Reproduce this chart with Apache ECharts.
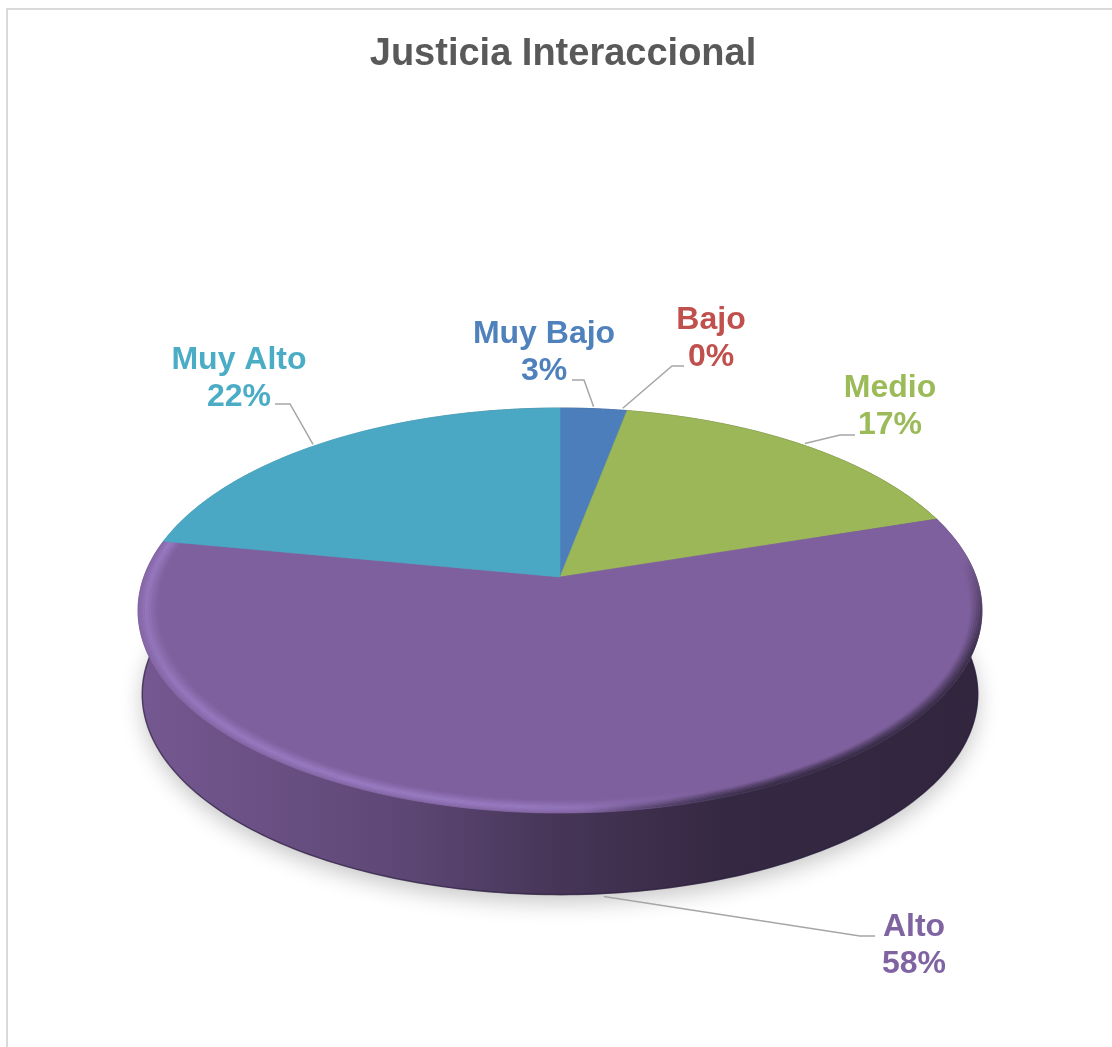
<!DOCTYPE html>
<html lang="es">
<head>
<meta charset="utf-8">
<title>Justicia Interaccional</title>
<style>
  html, body { margin: 0; padding: 0; background: #fff; }
  #chart { width: 1112px; height: 1047px; }
</style>
<script src="https://cdn.jsdelivr.net/npm/echarts@6/dist/echarts.min.js"></script>
</head>
<body>
<div id="chart"></div>
<script>
// Category names and their percentages
const categories = ['Muy Bajo', 'Bajo', 'Medio', 'Alto', 'Muy Alto'];
const percentages = [3, 0, 17, 58, 22];
const sliceColors = ['#4d7ebc', '#c0504d', '#9bb757', '#7f609e', '#4ba8c4'];
const labelColors = ['#4f81bd', '#c0504d', '#9bbb59', '#8064a2', '#4bacc6'];

// Label placement: text centre, leader elbow and a small angular nudge on the rim
const labelLayout = [
  { x: 544, y: 352.5, fromX: 572, elbowX: 584, elbowY: 380, nudge: 0, onBase: false },
  { x: 711, y: 339, fromX: 684, elbowX: 672, elbowY: 366, nudge: -0.7, onBase: false },
  { x: 890, y: 407, fromX: 855, elbowX: 840, elbowY: 435, nudge: 0, onBase: false },
  { x: 914, y: 945.5, fromX: 875, elbowX: 860, elbowY: 936, nudge: -1.5, onBase: true },
  { x: 239, y: 378.5, fromX: 275, elbowX: 290, elbowY: 404, nudge: -2.2, onBase: false }
];

// Perspective model of the tilted disc
const CX = 560, CY = 577;
const REACH_BACK = 169, REACH_FRONT = 236, HALF_WIDTH = 422;
const K = (REACH_FRONT - REACH_BACK) / (REACH_FRONT + REACH_BACK);
const B = REACH_BACK * (1 + K);
const A = HALF_WIDTH * Math.sqrt(1 - K * K);
const BASE_DROP = 84, BASE_SCALE = 0.99;

function project(deg, radius, onBase) {
  const t = deg * Math.PI / 180;
  const u = radius * Math.sin(t), v = -radius * Math.cos(t);
  const d = 1 - K * v;
  const s = onBase ? BASE_SCALE : 1;
  return [CX + s * A * u / d, CY + (onBase ? BASE_DROP : 0) + s * B * v / d];
}

function arc(from, to, radius, onBase) {
  const pts = [];
  const n = Math.max(1, Math.ceil(Math.abs(to - from)));
  for (let i = 0; i <= n; i++) pts.push(project(from + (to - from) * i / n, radius, onBase));
  return pts;
}

// Slice start and end angles, clockwise from twelve o'clock
const total = percentages.reduce((a, b) => a + b, 0);
const spans = [];
percentages.reduce((acc, p, i) => {
  const next = acc + p / total * 360;
  spans[i] = [acc, next];
  return next;
}, 0);

function horizontal(stops) {
  return { type: 'linear', x: 137, y: 0, x2: 982, y2: 0, global: true, colorStops: stops };
}

// Scale a #rrggbb colour towards black
function dim(hex, factor) {
  const n = parseInt(hex.slice(1), 16);
  const part = shift => Math.round(((n >> shift) & 255) * factor);
  return `rgb(${part(16)},${part(8)},${part(0)})`;
}

// Wall shading runs from lit on the left to deep shade on the right
function wallFill(color) {
  return horizontal([
    { offset: 0, color: dim(color, 0.92) },
    { offset: 0.3, color: dim(color, 0.75) },
    { offset: 0.5, color: dim(color, 0.55) },
    { offset: 0.7, color: dim(color, 0.42) },
    { offset: 1, color: dim(color, 0.39) }
  ]);
}

// Drop shadow under the disc and the outer wall of each slice
function renderWall(params) {
  const i = params.dataIndex;
  const [a0, a1] = spans[i];
  if (a1 <= a0) return null;
  const top = arc(a0, a1, 1, false);
  const base = arc(a0, a1, 1, true);
  const children = [];
  if (i === 0) {
    children.push({
      type: 'polygon',
      shape: { points: arc(0, 360, 1, true) },
      style: {
        fill: '#8a8a8a',
        shadowBlur: 22,
        shadowColor: 'rgba(0,0,0,0.22)',
        shadowOffsetY: 8
      }
    });
  }
  children.push({
    type: 'polygon',
    shape: { points: top.concat(base.slice().reverse()) },
    style: { fill: wallFill(sliceColors[i]), stroke: wallFill(sliceColors[i]), lineWidth: 0.5 }
  });
  children.push({
    type: 'polyline',
    shape: { points: base },
    style: { fill: 'none', stroke: 'rgba(38,26,58,0.6)', lineWidth: 1.5 }
  });
  return { type: 'group', children };
}

// Top face of each slice, with the soft bevel along the front rim
function renderFace(params) {
  const i = params.dataIndex;
  const [a0, a1] = spans[i];
  if (a1 <= a0) return null;
  const points = [[CX, CY]].concat(arc(a0, a1, 1, false));
  const children = [{
    type: 'polygon',
    shape: { points },
    style: { fill: sliceColors[i], stroke: sliceColors[i], lineWidth: 0.6 }
  }];
  const mid = (a0 + a1) / 2 * Math.PI / 180;
  if (Math.cos(mid) < 0) {
    const steps = 12;
    for (let s = 0; s < steps; s++) {
      const f = s / (steps - 1);
      const radius = 0.998 - f * 0.046;
      const glow = Math.pow(Math.max(0, 1 - Math.abs(f - 0.38) / 0.62), 1.3);
      const shade = Math.max(0, 1 - f / 0.6);
      const ring = arc(a0, a1, radius, false);
      children.push({
        type: 'polyline',
        shape: { points: ring },
        style: {
          fill: 'none',
          lineWidth: 2.2,
          stroke: horizontal([
            { offset: 0, color: `rgba(164,136,212,${(0.5 * glow).toFixed(3)})` },
            { offset: 0.45, color: `rgba(164,136,212,${(0.42 * glow).toFixed(3)})` },
            { offset: 0.68, color: 'rgba(164,136,212,0)' },
            { offset: 1, color: 'rgba(164,136,212,0)' }
          ])
        }
      });
      children.push({
        type: 'polyline',
        shape: { points: ring },
        style: {
          fill: 'none',
          lineWidth: 2.2,
          stroke: {
            type: 'linear',
            x: 600, y: 800, x2: 646, y2: 869,
            global: true,
            colorStops: [
              { offset: 0, color: 'rgba(50,40,64,0)' },
              { offset: 1, color: `rgba(50,40,64,${(0.85 * shade).toFixed(3)})` }
            ]
          }
        }
      });
    }
  }
  return { type: 'group', children };
}

// Two-line label with its leader line
function renderLabel(params) {
  const i = params.dataIndex;
  const at = labelLayout[i];
  const angle = (spans[i][0] + spans[i][1]) / 2 + at.nudge;
  const end = project(angle, 1, at.onBase);
  const tip = at.onBase ? [end[0], end[1] + 3] : [end[0], end[1] - 2];
  return {
    type: 'group',
    children: [
      {
        type: 'polyline',
        shape: { points: [[at.fromX, at.elbowY], [at.elbowX, at.elbowY], tip] },
        style: { fill: 'none', stroke: '#a6a6a6', lineWidth: 1.5 }
      },
      {
        type: 'text',
        x: at.x,
        y: at.y,
        style: {
          text: categories[i] + '\n' + percentages[i] + '%',
          font: 'bold 32px "Liberation Sans", Arial, sans-serif',
          fill: labelColors[i],
          align: 'center',
          verticalAlign: 'middle',
          lineHeight: 37
        }
      }
    ]
  };
}

const seriesData = categories.map((name, i) => ({ name, value: percentages[i] }));

function layer(renderItem, z) {
  return {
    type: 'custom',
    coordinateSystem: 'none',
    renderItem,
    data: seriesData,
    z,
    silent: true,
    animation: false
  };
}

const chart = echarts.init(document.getElementById('chart'), null, { renderer: 'canvas' });
chart.setOption({
  backgroundColor: '#ffffff',
  animation: false,
  title: {
    text: 'Justicia Interaccional',
    left: 558,
    top: 31,
    textAlign: 'center',
    textStyle: {
      color: '#595959',
      fontFamily: '"Liberation Sans", Arial, sans-serif',
      fontWeight: 'bold',
      fontSize: 38
    }
  },
  graphic: [
    { type: 'line', z: 1, shape: { x1: 6, y1: 9, x2: 1112, y2: 9 }, style: { stroke: '#d9d9d9', lineWidth: 2 } },
    { type: 'line', z: 1, shape: { x1: 7, y1: 8, x2: 7, y2: 1047 }, style: { stroke: '#d9d9d9', lineWidth: 2 } }
  ],
  series: [layer(renderWall, 2), layer(renderFace, 3), layer(renderLabel, 4)]
});
</script>
</body>
</html>
